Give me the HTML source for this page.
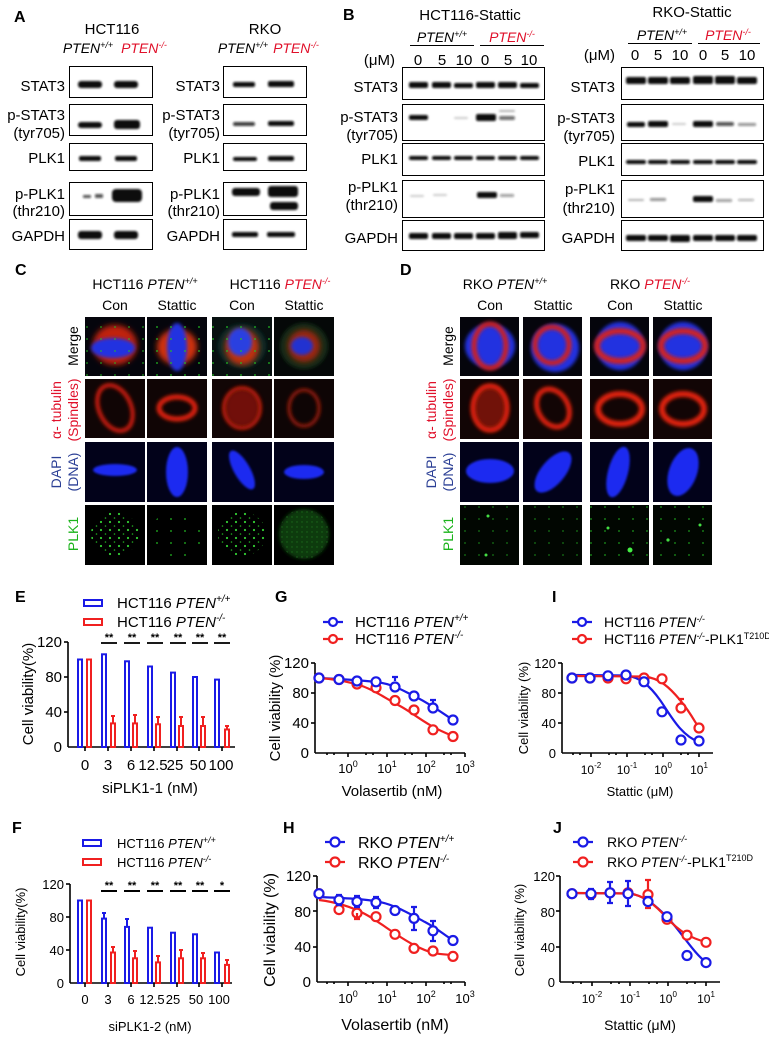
<!DOCTYPE html>
<html><head><meta charset="utf-8"><style>
html,body{margin:0;padding:0;background:#fff;}
svg{display:block;font-family:"Liberation Sans",Arial,sans-serif;}
</style></head><body>
<svg width="769" height="1040" viewBox="0 0 769 1040" xmlns="http://www.w3.org/2000/svg">
<defs>
<filter id="bl" x="-20%" y="-80%" width="140%" height="260%"><feGaussianBlur stdDeviation="1.1"/></filter>
<filter id="bl3" x="-30%" y="-30%" width="160%" height="160%"><feGaussianBlur stdDeviation="3"/></filter>
<filter id="bl1" x="-30%" y="-30%" width="160%" height="160%"><feGaussianBlur stdDeviation="1"/></filter>
<filter id="bl2" x="-30%" y="-30%" width="160%" height="160%"><feGaussianBlur stdDeviation="1.8"/></filter>
<pattern id="gdots" width="9" height="8" patternUnits="userSpaceOnUse"><circle cx="2" cy="2" r="1.1" fill="#3c3"/><circle cx="6.5" cy="6" r="0.8" fill="#2a2"/></pattern>
<pattern id="gdots2" width="5" height="5" patternUnits="userSpaceOnUse"><circle cx="2" cy="2" r="0.7" fill="#1a6a1a"/></pattern>
<pattern id="gdots3" width="14" height="12" patternUnits="userSpaceOnUse"><circle cx="3" cy="3" r="0.9" fill="#2b2"/></pattern>
</defs>
<rect width="769" height="1040" fill="#fff"/>

<!-- ============ PANEL A ============ -->
<g font-size="14" fill="#000">
<text x="14" y="22" font-weight="bold" font-size="16">A</text>
<text x="112" y="34" text-anchor="middle" font-size="15">HCT116</text>
<text x="88" y="53" text-anchor="middle" font-style="italic">PTEN<tspan font-size="9" dy="-5">+/+</tspan></text>
<text x="144" y="53" text-anchor="middle" font-style="italic" fill="#e0102a">PTEN<tspan font-size="9" dy="-5">-/-</tspan></text>
<text x="265" y="34" text-anchor="middle" font-size="15">RKO</text>
<text x="243" y="53" text-anchor="middle" font-style="italic">PTEN<tspan font-size="9" dy="-5">+/+</tspan></text>
<text x="296" y="53" text-anchor="middle" font-style="italic" fill="#e0102a">PTEN<tspan font-size="9" dy="-5">-/-</tspan></text>
<g text-anchor="end" font-size="15">
<text x="65" y="91">STAT3</text><text x="65" y="120">p-STAT3</text><text x="65" y="138">(tyr705)</text>
<text x="65" y="163">PLK1</text><text x="65" y="199">p-PLK1</text><text x="65" y="216">(thr210)</text><text x="65" y="241">GAPDH</text>
<text x="220" y="91">STAT3</text><text x="220" y="120">p-STAT3</text><text x="220" y="138">(tyr705)</text>
<text x="220" y="163">PLK1</text><text x="220" y="199">p-PLK1</text><text x="220" y="216">(thr210)</text><text x="220" y="241">GAPDH</text>
</g>
</g>
<g fill="none" stroke="#000" stroke-width="1">
<rect x="69.5" y="66.5" width="83" height="31"/><rect x="69.5" y="104.5" width="83" height="31"/><rect x="69.5" y="143.5" width="83" height="27"/><rect x="69.5" y="182.5" width="83" height="33"/><rect x="69.5" y="219.5" width="83" height="30"/>
<rect x="223.5" y="66.5" width="83" height="31"/><rect x="223.5" y="104.5" width="83" height="31"/><rect x="223.5" y="143.5" width="83" height="27"/><rect x="223.5" y="182.5" width="83" height="33"/><rect x="223.5" y="219.5" width="83" height="30"/>
</g>
<g fill="#111" filter="url(#bl)">
<rect x="78" y="81" width="24" height="7" rx="3"/><rect x="114" y="81" width="24" height="7" rx="3"/>
<rect x="78" y="122" width="24" height="6" rx="3"/><rect x="114" y="120" width="26" height="9" rx="3"/>
<rect x="79" y="156" width="22" height="5" rx="2"/><rect x="115" y="156" width="22" height="5" rx="2"/>
<rect x="83" y="195" width="8" height="3" rx="1" opacity=".7"/><rect x="95" y="194" width="8" height="4" rx="1" opacity=".7"/><rect x="112" y="189" width="30" height="13" rx="4"/>
<rect x="78" y="231" width="24" height="8" rx="3"/><rect x="114" y="231" width="24" height="8" rx="3"/>
<rect x="233" y="82" width="22" height="5" rx="2"/><rect x="268" y="81" width="26" height="6" rx="2"/>
<rect x="233" y="122" width="22" height="4" rx="2" opacity=".8"/><rect x="268" y="121" width="26" height="5" rx="2"/>
<rect x="233" y="157" width="24" height="4" rx="2"/><rect x="268" y="156" width="26" height="5" rx="2"/>
<rect x="232" y="188" width="28" height="8" rx="3"/><rect x="268" y="186" width="30" height="11" rx="3"/><rect x="270" y="202" width="28" height="8" rx="3"/>
<rect x="232" y="232" width="26" height="5" rx="2"/><rect x="267" y="232" width="28" height="5" rx="2"/>
</g>

<!-- ============ PANEL B ============ -->
<g font-size="14" fill="#000">
<text x="343" y="20" font-weight="bold" font-size="16">B</text>
<text x="470" y="20" text-anchor="middle" font-size="15">HCT116-Stattic</text>
<text x="692" y="17" text-anchor="middle" font-size="15">RKO-Stattic</text>
<text x="442" y="42" text-anchor="middle" font-style="italic">PTEN<tspan font-size="9" dy="-5">+/+</tspan></text>
<text x="512" y="42" text-anchor="middle" font-style="italic" fill="#e0102a">PTEN<tspan font-size="9" dy="-5">-/-</tspan></text>
<text x="662" y="40" text-anchor="middle" font-style="italic">PTEN<tspan font-size="9" dy="-5">+/+</tspan></text>
<text x="728" y="40" text-anchor="middle" font-style="italic" fill="#e0102a">PTEN<tspan font-size="9" dy="-5">-/-</tspan></text>
<text x="395" y="65" text-anchor="end" font-size="15">(μM)</text>
<text x="615" y="60" text-anchor="end" font-size="15">(μM)</text>
<g text-anchor="middle" font-size="15">
<text x="418" y="65">0</text><text x="442" y="65">5</text><text x="464" y="65">10</text><text x="485" y="65">0</text><text x="508" y="65">5</text><text x="529" y="65">10</text>
<text x="635" y="60">0</text><text x="658" y="60">5</text><text x="680" y="60">10</text><text x="703" y="60">0</text><text x="725" y="60">5</text><text x="747" y="60">10</text>
</g>
<g text-anchor="end" font-size="15">
<text x="398" y="92">STAT3</text><text x="398" y="122">p-STAT3</text><text x="398" y="140">(tyr705)</text>
<text x="398" y="164">PLK1</text><text x="398" y="192">p-PLK1</text><text x="398" y="210">(thr210)</text><text x="398" y="243">GAPDH</text>
<text x="615" y="92">STAT3</text><text x="615" y="123">p-STAT3</text><text x="615" y="141">(tyr705)</text>
<text x="615" y="166">PLK1</text><text x="615" y="194">p-PLK1</text><text x="615" y="213">(thr210)</text><text x="615" y="243">GAPDH</text>
</g>
</g>
<g stroke="#000" stroke-width="1" fill="none">
<line x1="410" y1="45.5" x2="474" y2="45.5"/><line x1="480" y1="45.5" x2="544" y2="45.5"/>
<line x1="628" y1="43.5" x2="692" y2="43.5"/><line x1="698" y1="43.5" x2="760" y2="43.5"/>
<rect x="402.5" y="67.5" width="142" height="32"/><rect x="402.5" y="104.5" width="142" height="36"/><rect x="402.5" y="143.5" width="142" height="32"/><rect x="402.5" y="180.5" width="142" height="37"/><rect x="402.5" y="220.5" width="142" height="30"/>
<rect x="621.5" y="67.5" width="142" height="32"/><rect x="621.5" y="104.5" width="142" height="36"/><rect x="621.5" y="143.5" width="142" height="32"/><rect x="621.5" y="180.5" width="142" height="37"/><rect x="621.5" y="220.5" width="142" height="30"/>
</g>
<g fill="#111" filter="url(#bl)">
<rect x="409" y="82" width="19" height="6" rx="2"/><rect x="432" y="82" width="19" height="6" rx="2"/><rect x="454" y="83" width="19" height="5" rx="2"/><rect x="476" y="82" width="19" height="6" rx="2"/><rect x="498" y="82" width="19" height="6" rx="2"/><rect x="520" y="83" width="19" height="5" rx="2"/>
<rect x="409" y="115" width="19" height="5" rx="2"/><rect x="454" y="117" width="14" height="2" rx="1" opacity=".2"/><rect x="476" y="114" width="20" height="7" rx="2"/><rect x="499" y="116" width="16" height="4" rx="2" opacity=".6"/><rect x="499" y="110" width="16" height="2" rx="1" opacity=".3"/>
<rect x="409" y="156" width="19" height="4" rx="2"/><rect x="432" y="156" width="19" height="4" rx="2"/><rect x="454" y="156" width="19" height="4" rx="2"/><rect x="476" y="156" width="19" height="4" rx="2"/><rect x="498" y="156" width="19" height="4" rx="2"/><rect x="520" y="156" width="19" height="4" rx="2"/>
<rect x="410" y="195" width="14" height="2" rx="1" opacity=".2"/><rect x="433" y="194" width="14" height="2" rx="1" opacity=".2"/><rect x="477" y="192" width="20" height="6" rx="2"/><rect x="500" y="194" width="14" height="3" rx="1" opacity=".4"/>
<rect x="409" y="233" width="19" height="6" rx="2"/><rect x="432" y="233" width="19" height="6" rx="2"/><rect x="454" y="233" width="19" height="6" rx="2"/><rect x="476" y="233" width="19" height="6" rx="2"/><rect x="498" y="232" width="19" height="7" rx="2"/><rect x="520" y="232" width="19" height="6" rx="2"/>
<rect x="626" y="77" width="20" height="7" rx="2"/><rect x="648" y="77" width="20" height="7" rx="2"/><rect x="670" y="77" width="20" height="7" rx="2"/><rect x="693" y="76" width="20" height="8" rx="2"/><rect x="715" y="76" width="20" height="8" rx="2"/><rect x="737" y="77" width="20" height="7" rx="2"/>
<rect x="627" y="122" width="18" height="5" rx="2"/><rect x="648" y="121" width="20" height="6" rx="2"/><rect x="672" y="123" width="14" height="2" rx="1" opacity=".2"/><rect x="693" y="121" width="20" height="6" rx="2"/><rect x="716" y="122" width="18" height="4" rx="2" opacity=".7"/><rect x="738" y="123" width="18" height="3" rx="1" opacity=".45"/>
<rect x="626" y="160" width="20" height="4" rx="2"/><rect x="648" y="160" width="20" height="4" rx="2"/><rect x="670" y="160" width="20" height="4" rx="2"/><rect x="693" y="160" width="20" height="4" rx="2"/><rect x="715" y="160" width="20" height="4" rx="2"/><rect x="737" y="160" width="20" height="4" rx="2"/>
<rect x="628" y="199" width="16" height="2" rx="1" opacity=".3"/><rect x="650" y="198" width="16" height="3" rx="1" opacity=".45"/><rect x="693" y="196" width="20" height="6" rx="2"/><rect x="716" y="199" width="16" height="3" rx="1" opacity=".4"/><rect x="738" y="199" width="16" height="2" rx="1" opacity=".35"/>
<rect x="626" y="235" width="20" height="6" rx="2"/><rect x="648" y="235" width="20" height="6" rx="2"/><rect x="670" y="235" width="20" height="7" rx="2"/><rect x="693" y="235" width="20" height="6" rx="2"/><rect x="715" y="235" width="20" height="6" rx="2"/><rect x="737" y="235" width="20" height="6" rx="2"/>
</g>

<!-- ============ PANEL C ============ -->
<g font-size="14" fill="#000">
<text x="15" y="275" font-weight="bold" font-size="16">C</text>
<text x="145" y="289" text-anchor="middle">HCT116 <tspan font-style="italic">PTEN</tspan><tspan font-size="9" dy="-5" font-style="italic">+/+</tspan></text>
<text x="280" y="289" text-anchor="middle">HCT116 <tspan font-style="italic" fill="#e0102a">PTEN</tspan><tspan font-size="9" dy="-5" font-style="italic" fill="#e0102a">-/-</tspan></text>
<g text-anchor="middle"><text x="115" y="310">Con</text><text x="177" y="310">Stattic</text><text x="242" y="310">Con</text><text x="304" y="310">Stattic</text></g>
<g text-anchor="middle">
<text transform="translate(78,346) rotate(-90)">Merge</text>
<text transform="translate(61,410) rotate(-90)" fill="#e0102a">α- tubulin</text>
<text transform="translate(78,410) rotate(-90)" fill="#e0102a">(Spindles)</text>
<text transform="translate(61,472) rotate(-90)" fill="#2b3f95">DAPI</text>
<text transform="translate(78,472) rotate(-90)" fill="#2b3f95">(DNA)</text>
<text transform="translate(78,534) rotate(-90)" fill="#1bb31b">PLK1</text>
</g>
</g>
<g font-size="14" fill="#000">
<text x="400" y="275" font-weight="bold" font-size="16">D</text>
<text x="505" y="289" text-anchor="middle">RKO <tspan font-style="italic">PTEN</tspan><tspan font-size="9" dy="-5" font-style="italic">+/+</tspan></text>
<text x="650" y="289" text-anchor="middle">RKO <tspan font-style="italic" fill="#e0102a">PTEN</tspan><tspan font-size="9" dy="-5" font-style="italic" fill="#e0102a">-/-</tspan></text>
<g text-anchor="middle"><text x="490" y="310">Con</text><text x="553" y="310">Stattic</text><text x="620" y="310">Con</text><text x="683" y="310">Stattic</text></g>
<g text-anchor="middle">
<text transform="translate(453,346) rotate(-90)">Merge</text>
<text transform="translate(436,410) rotate(-90)" fill="#e0102a">α- tubulin</text>
<text transform="translate(453,410) rotate(-90)" fill="#e0102a">(Spindles)</text>
<text transform="translate(436,472) rotate(-90)" fill="#2b3f95">DAPI</text>
<text transform="translate(453,472) rotate(-90)" fill="#2b3f95">(DNA)</text>
<text transform="translate(453,534) rotate(-90)" fill="#1bb31b">PLK1</text>
</g>
</g>

<g>
<g><rect x="85" y="317" width="60" height="59" fill="#05050c"/><ellipse cx="115" cy="345" rx="22" ry="20" fill="#c02010" filter="url(#bl3)"/><ellipse cx="113" cy="348" rx="22" ry="10" fill="#2030e0" filter="url(#bl2)"/><rect x="85" y="317" width="60" height="59" fill="url(#gdots3)" opacity=".8"/></g>
<g><rect x="147" y="317" width="60" height="59" fill="#05050c"/><ellipse cx="177" cy="347" rx="20" ry="18" fill="#d03010" filter="url(#bl3)"/><ellipse cx="177" cy="347" rx="10" ry="24" fill="#2030e0" filter="url(#bl2)"/><rect x="147" y="317" width="60" height="59" fill="url(#gdots3)"/></g>
<g><rect x="212" y="317" width="60" height="59" fill="#081010"/><ellipse cx="242" cy="346" rx="24" ry="22" fill="#0d2a28" filter="url(#bl2)"/><ellipse cx="242" cy="347" rx="17" ry="18" fill="#c03010" filter="url(#bl3)"/><ellipse cx="240" cy="342" rx="12" ry="14" fill="#2a40e0" filter="url(#bl2)"/><rect x="212" y="317" width="60" height="59" fill="url(#gdots3)"/></g>
<g><rect x="274" y="317" width="60" height="59" fill="#050808"/><ellipse cx="304" cy="346" rx="24" ry="23" fill="#122a18" filter="url(#bl2)"/><ellipse cx="304" cy="346" rx="16" ry="16" fill="#a02510" filter="url(#bl3)"/><ellipse cx="302" cy="346" rx="11" ry="9" fill="#2030d0" filter="url(#bl2)"/></g>
<g><rect x="85" y="379" width="60" height="59" fill="#100505"/><ellipse cx="115" cy="408" rx="16" ry="24" fill="none" stroke="#d01a10" stroke-width="4" filter="url(#bl2)" transform="rotate(-25 115 408)"/></g>
<g><rect x="147" y="379" width="60" height="59" fill="#100505"/><ellipse cx="177" cy="408" rx="18" ry="11" fill="none" stroke="#e0200f" stroke-width="5" filter="url(#bl2)"/></g>
<g><rect x="212" y="379" width="60" height="59" fill="#120606"/><ellipse cx="242" cy="408" rx="18" ry="20" fill="#b0180c" opacity=".6" filter="url(#bl3)"/><ellipse cx="242" cy="408" rx="18" ry="20" fill="none" stroke="#d02010" stroke-width="3" filter="url(#bl2)"/></g>
<g><rect x="274" y="379" width="60" height="59" fill="#0e0505"/><ellipse cx="304" cy="408" rx="15" ry="18" fill="none" stroke="#a01a10" stroke-width="3" filter="url(#bl2)"/></g>
<g><rect x="85" y="442" width="60" height="60" fill="#02021a"/><ellipse cx="115" cy="470" rx="22" ry="6" fill="#1a2cf0" filter="url(#bl1)"/></g>
<g><rect x="147" y="442" width="60" height="60" fill="#02021a"/><ellipse cx="177" cy="472" rx="11" ry="25" fill="#1a2cf0" filter="url(#bl1)"/></g>
<g><rect x="212" y="442" width="60" height="60" fill="#02021a"/><ellipse cx="242" cy="470" rx="8" ry="22" fill="#1a2cf0" filter="url(#bl1)" transform="rotate(-30 242 470)"/></g>
<g><rect x="274" y="442" width="60" height="60" fill="#02021a"/><ellipse cx="304" cy="472" rx="20" ry="7" fill="#1a2cf0" filter="url(#bl1)"/></g>
<g><rect x="85" y="505" width="60" height="60" fill="#000"/><ellipse cx="115" cy="534" rx="24" ry="22" fill="url(#gdots)"/></g>
<g><rect x="147" y="505" width="60" height="60" fill="#000"/><ellipse cx="177" cy="534" rx="26" ry="24" fill="url(#gdots3)"/></g>
<g><rect x="212" y="505" width="60" height="60" fill="#000"/><ellipse cx="242" cy="534" rx="24" ry="22" fill="url(#gdots)"/></g>
<g><rect x="274" y="505" width="60" height="60" fill="#000"/><ellipse cx="304" cy="534" rx="25" ry="25" fill="#0c3a0c" filter="url(#bl2)"/><ellipse cx="304" cy="534" rx="25" ry="25" fill="url(#gdots2)"/></g>
</g>
<g>
<g><rect x="460" y="317" width="59" height="59" fill="#05050c"/><ellipse cx="490" cy="346" rx="25" ry="22" fill="#2030e0" filter="url(#bl2)"/><ellipse cx="490" cy="346" rx="16" ry="22" fill="none" stroke="#d02020" stroke-width="5" filter="url(#bl2)"/></g>
<g><rect x="523" y="317" width="59" height="59" fill="#05050c"/><ellipse cx="555" cy="348" rx="24" ry="24" fill="#2030e0" filter="url(#bl2)"/><ellipse cx="552" cy="345" rx="17" ry="18" fill="none" stroke="#d02020" stroke-width="5" filter="url(#bl2)"/></g>
<g><rect x="590" y="317" width="59" height="59" fill="#05050c"/><ellipse cx="620" cy="346" rx="24" ry="24" fill="#2030e0" filter="url(#bl2)"/><ellipse cx="620" cy="346" rx="23" ry="15" fill="none" stroke="#d02020" stroke-width="6" filter="url(#bl2)"/></g>
<g><rect x="653" y="317" width="59" height="59" fill="#05050c"/><ellipse cx="683" cy="346" rx="24" ry="24" fill="#2030e0" filter="url(#bl2)"/><ellipse cx="683" cy="346" rx="22" ry="15" fill="none" stroke="#d02020" stroke-width="6" filter="url(#bl2)"/></g>
<g><rect x="460" y="379" width="59" height="60" fill="#120505"/><ellipse cx="490" cy="408" rx="17" ry="22" fill="#b01a10" opacity=".6" filter="url(#bl3)"/><ellipse cx="490" cy="408" rx="17" ry="22" fill="none" stroke="#e02010" stroke-width="5" filter="url(#bl2)"/></g>
<g><rect x="523" y="379" width="59" height="60" fill="#120505"/><ellipse cx="553" cy="408" rx="15" ry="20" fill="none" stroke="#e02010" stroke-width="5" filter="url(#bl2)" transform="rotate(-30 553 408)"/></g>
<g><rect x="590" y="379" width="59" height="60" fill="#120505"/><ellipse cx="620" cy="409" rx="22" ry="15" fill="none" stroke="#e02010" stroke-width="6" filter="url(#bl2)"/><line x1="602" y1="409" x2="638" y2="409" stroke="#c01a10" stroke-width="3" filter="url(#bl1)"/></g>
<g><rect x="653" y="379" width="59" height="60" fill="#120505"/><ellipse cx="683" cy="409" rx="21" ry="15" fill="none" stroke="#e02010" stroke-width="6" filter="url(#bl2)"/></g>
<g><rect x="460" y="442" width="59" height="60" fill="#02021a"/><ellipse cx="490" cy="471" rx="24" ry="12" fill="#1a2cf0" filter="url(#bl1)"/></g>
<g><rect x="523" y="442" width="59" height="60" fill="#02021a"/><ellipse cx="553" cy="472" rx="12" ry="25" fill="#1a2cf0" filter="url(#bl1)" transform="rotate(40 553 472)"/></g>
<g><rect x="590" y="442" width="59" height="60" fill="#02021a"/><ellipse cx="618" cy="472" rx="10" ry="26" fill="#1a2cf0" filter="url(#bl1)" transform="rotate(15 618 472)"/></g>
<g><rect x="653" y="442" width="59" height="60" fill="#02021a"/><ellipse cx="683" cy="472" rx="14" ry="25" fill="#1a2cf0" filter="url(#bl1)" transform="rotate(20 683 472)"/></g>
<g><rect x="460" y="505" width="59" height="60" fill="#010601"/><rect x="460" y="505" width="59" height="60" fill="url(#gdots3)" opacity=".6"/><circle cx="488" cy="516" r="1.5" fill="#4d4"/><circle cx="486" cy="555" r="1.5" fill="#4d4"/></g>
<g><rect x="523" y="505" width="59" height="60" fill="#010601"/><rect x="523" y="505" width="59" height="60" fill="url(#gdots3)" opacity=".6"/></g>
<g><rect x="590" y="505" width="59" height="60" fill="#010601"/><rect x="590" y="505" width="59" height="60" fill="url(#gdots3)" opacity=".8"/><circle cx="630" cy="550" r="2.5" fill="#4e4"/><circle cx="608" cy="528" r="1.5" fill="#4d4"/></g>
<g><rect x="653" y="505" width="59" height="60" fill="#010601"/><rect x="653" y="505" width="59" height="60" fill="url(#gdots3)" opacity=".8"/><circle cx="668" cy="540" r="1.6" fill="#4d4"/><circle cx="700" cy="525" r="1.5" fill="#4d4"/></g>
</g>

<!-- ============ PANEL E ============ -->
<g font-size="15" fill="#000">
<text x="15" y="602" font-weight="bold" font-size="16">E</text>
<rect x="84" y="600" width="18" height="6" fill="none" stroke="#1a1ae6" stroke-width="2"/>
<rect x="84" y="619" width="18" height="6" fill="none" stroke="#f02020" stroke-width="2"/>
<text x="117" y="608">HCT116 <tspan font-style="italic">PTEN</tspan><tspan font-size="10" dy="-6" font-style="italic">+/+</tspan></text>
<text x="117" y="627">HCT116 <tspan font-style="italic">PTEN</tspan><tspan font-size="10" dy="-6" font-style="italic">-/-</tspan></text>
<g text-anchor="end"><text x="62" y="647">120</text><text x="62" y="682">80</text><text x="62" y="717">40</text><text x="62" y="752">0</text></g>
<g text-anchor="middle"><text x="85" y="770">0</text><text x="108" y="770">3</text><text x="131" y="770">6</text><text x="153" y="770">12.5</text><text x="175" y="770">25</text><text x="198" y="770">50</text><text x="221" y="770">100</text></g>
<text x="150" y="793" text-anchor="middle">siPLK1-1 (nM)</text>
<text transform="translate(33,694) rotate(-90)" text-anchor="middle">Cell viability(%)</text>
</g>
<g stroke="#000" stroke-width="1.6" fill="none">
<line x1="68" y1="642" x2="68" y2="747"/><line x1="68" y1="747" x2="235" y2="747"/>
<line x1="64" y1="642" x2="68" y2="642"/><line x1="64" y1="677" x2="68" y2="677"/><line x1="64" y1="712" x2="68" y2="712"/>
<line x1="85" y1="747" x2="85" y2="751"/><line x1="108" y1="747" x2="108" y2="751"/><line x1="131" y1="747" x2="131" y2="751"/><line x1="154" y1="747" x2="154" y2="751"/><line x1="177" y1="747" x2="177" y2="751"/><line x1="199" y1="747" x2="199" y2="751"/><line x1="222" y1="747" x2="222" y2="751"/>
<g stroke-width="1.8"><line x1="101" y1="643" x2="117" y2="643"/><line x1="124" y1="643" x2="140" y2="643"/><line x1="147" y1="643" x2="163" y2="643"/><line x1="170" y1="643" x2="186" y2="643"/><line x1="192" y1="643" x2="208" y2="643"/><line x1="214" y1="643" x2="230" y2="643"/></g>
</g>
<g font-size="11" font-weight="bold" text-anchor="middle"><text x="109" y="641">**</text><text x="132" y="641">**</text><text x="155" y="641">**</text><text x="178" y="641">**</text><text x="200" y="641">**</text><text x="222" y="641">**</text></g>
<g fill="#fff" stroke-width="2">
<g stroke="#1a1ae6">
<rect x="78" y="659.5" width="4" height="87.5"/><rect x="102" y="654.3" width="4" height="92.7"/><rect x="125" y="661.3" width="4" height="85.7"/><rect x="148" y="666.5" width="4" height="80.5"/><rect x="171" y="672.6" width="4" height="74.4"/><rect x="193" y="677" width="4" height="70"/><rect x="215" y="679.6" width="4" height="67.4"/>
</g>
<g stroke="#f02020">
<rect x="87" y="659.5" width="4" height="87.5"/><rect x="111" y="723.4" width="4" height="23.6"/><rect x="133" y="723.4" width="4" height="23.6"/><rect x="156" y="724.3" width="4" height="22.7"/><rect x="179" y="726" width="4" height="21"/><rect x="201" y="726" width="4" height="21"/><rect x="225" y="729.5" width="4" height="17.5"/>
<path d="M113 723V716M111 716h4M135 723V715M133 715h4M158 724V717M156 717h4M181 726V717M179 717h4M203 726V717M201 717h4M227 729V726M225 726h4" fill="none"/>
</g>
</g>

<!-- ============ PANEL F ============ -->
<g font-size="13" fill="#000">
<text x="12" y="833" font-weight="bold" font-size="16">F</text>
<rect x="83" y="840" width="18" height="6" fill="none" stroke="#1a1ae6" stroke-width="2"/>
<rect x="83" y="859" width="18" height="6" fill="none" stroke="#f02020" stroke-width="2"/>
<text x="117" y="848">HCT116 <tspan font-style="italic">PTEN</tspan><tspan font-size="9" dy="-5" font-style="italic">+/+</tspan></text>
<text x="117" y="867">HCT116 <tspan font-style="italic">PTEN</tspan><tspan font-size="9" dy="-5" font-style="italic">-/-</tspan></text>
<g text-anchor="end"><text x="64" y="889">120</text><text x="64" y="922">80</text><text x="64" y="955">40</text><text x="64" y="988">0</text></g>
<g text-anchor="middle"><text x="85" y="1004">0</text><text x="108" y="1004">3</text><text x="131" y="1004">6</text><text x="152" y="1004">12.5</text><text x="173" y="1004">25</text><text x="196" y="1004">50</text><text x="219" y="1004">100</text></g>
<text x="150" y="1031" text-anchor="middle">siPLK1-2  (nM)</text>
<text transform="translate(25,932) rotate(-90)" text-anchor="middle">Cell viability(%)</text>
</g>
<g stroke="#000" stroke-width="1.6" fill="none">
<line x1="70" y1="884" x2="70" y2="983"/><line x1="70" y1="983" x2="232" y2="983"/>
<line x1="66" y1="884" x2="70" y2="884"/><line x1="66" y1="917" x2="70" y2="917"/><line x1="66" y1="950" x2="70" y2="950"/>
<line x1="85" y1="983" x2="85" y2="987"/><line x1="108" y1="983" x2="108" y2="987"/><line x1="131" y1="983" x2="131" y2="987"/><line x1="154" y1="983" x2="154" y2="987"/><line x1="177" y1="983" x2="177" y2="987"/><line x1="199" y1="983" x2="199" y2="987"/><line x1="222" y1="983" x2="222" y2="987"/>
<g stroke-width="2"><line x1="101" y1="891" x2="117" y2="891"/><line x1="124" y1="891" x2="140" y2="891"/><line x1="147" y1="891" x2="163" y2="891"/><line x1="170" y1="891" x2="186" y2="891"/><line x1="192" y1="891" x2="208" y2="891"/><line x1="214" y1="891" x2="230" y2="891"/></g>
</g>
<g font-size="11" font-weight="bold" text-anchor="middle"><text x="109" y="889">**</text><text x="132" y="889">**</text><text x="155" y="889">**</text><text x="178" y="889">**</text><text x="200" y="889">**</text><text x="222" y="889">*</text></g>
<g fill="#fff" stroke-width="2">
<g stroke="#1a1ae6">
<rect x="78" y="900.5" width="4" height="82.5"/><rect x="102" y="918.6" width="4" height="64.4"/><rect x="125" y="926.9" width="4" height="56.1"/><rect x="148" y="927.7" width="4" height="55.3"/><rect x="171" y="932.7" width="4" height="50.3"/><rect x="193" y="934.3" width="4" height="48.7"/><rect x="215" y="952.5" width="4" height="30.5"/>
<path d="M104 918V913M102 913h4M127 926V919M125 919h4" fill="none"/>
</g>
<g stroke="#f02020">
<rect x="87" y="900.5" width="4" height="82.5"/><rect x="111" y="952.5" width="4" height="30.5"/><rect x="133" y="958.3" width="4" height="24.7"/><rect x="156" y="962.4" width="4" height="20.6"/><rect x="179" y="958.3" width="4" height="24.7"/><rect x="201" y="958.3" width="4" height="24.7"/><rect x="225" y="964.9" width="4" height="18.1"/>
<path d="M113 952V947M111 947h4M135 958V951M133 951h4M158 962V956M156 956h4M181 958V950M179 950h4M203 958V953M201 953h4M227 964V960M225 960h4" fill="none"/>
</g>
</g>

<!-- ============ PANEL G ============ -->
<g font-size="15" fill="#000">
<text x="275" y="602" font-weight="bold" font-size="16">G</text>
<text x="355" y="627">HCT116 <tspan font-style="italic">PTEN</tspan><tspan font-size="10" dy="-6" font-style="italic">+/+</tspan></text>
<text x="355" y="644">HCT116 <tspan font-style="italic">PTEN</tspan><tspan font-size="10" dy="-6" font-style="italic">-/-</tspan></text>
<g text-anchor="end"><text x="309" y="668">120</text><text x="309" y="698">80</text><text x="309" y="728">40</text><text x="309" y="758">0</text></g>
<g text-anchor="middle" font-size="13"><text x="348" y="773">10<tspan font-size="9" dy="-6">0</tspan></text><text x="387" y="773">10<tspan font-size="9" dy="-6">1</tspan></text><text x="426" y="773">10<tspan font-size="9" dy="-6">2</tspan></text><text x="465" y="773">10<tspan font-size="9" dy="-6">3</tspan></text></g>
<text x="392" y="796" text-anchor="middle">Volasertib (nM)</text>
<text transform="translate(280,708) rotate(-90)" text-anchor="middle">Cell viability (%)</text>
</g>
<g stroke="#000" stroke-width="1.6" fill="none">
<line x1="315" y1="663" x2="315" y2="753"/><line x1="315" y1="753" x2="465" y2="753"/>
<line x1="311" y1="663" x2="315" y2="663"/><line x1="311" y1="693" x2="315" y2="693"/><line x1="311" y1="723" x2="315" y2="723"/>
<path d="M348 753v4M387 753v4M426 753v4M465 753v4M327 753v2M334 753v2M366 753v2M373 753v2M405 753v2M412 753v2M444 753v2M451 753v2"/>
</g>
<g fill="none" stroke-width="2.2">
<line x1="323" y1="622" x2="343" y2="622" stroke="#1a1ae6"/><circle cx="333" cy="622" r="4" stroke="#1a1ae6" fill="#fff"/>
<line x1="323" y1="639" x2="343" y2="639" stroke="#f02020"/><circle cx="333" cy="639" r="4" stroke="#f02020" fill="#fff"/>
<path d="M319 678 C340 679 360 680 376 682 S398 688 414 696 S438 710 453 720" stroke="#1a1ae6"/>
<path d="M319 678 C335 679 350 682 362 686 S385 698 400 706 S425 725 453 736" stroke="#f02020"/>
<g stroke="#f02020" fill="#fff"><circle cx="319" cy="678" r="4.5"/><circle cx="339" cy="679.5" r="4.5"/><circle cx="357" cy="684" r="4.5"/><circle cx="376" cy="687.8" r="4.5"/><circle cx="395" cy="700.5" r="4.5"/><circle cx="414" cy="710" r="4.5"/><circle cx="433" cy="729.8" r="4.5"/><circle cx="453" cy="736.5" r="4.5"/></g>
<g stroke="#1a1ae6" fill="#fff"><circle cx="319" cy="678" r="4.5"/><circle cx="339" cy="679.5" r="4.5"/><circle cx="357" cy="681" r="4.5"/><circle cx="376" cy="681.8" r="4.5"/><circle cx="395" cy="687" r="4.5"/><circle cx="414" cy="696" r="4.5"/><circle cx="433" cy="708" r="4.5"/><circle cx="453" cy="720" r="4.5"/></g>
<path d="M395 681v-4M392 677h6M433 704v-4M430 700h6" stroke="#1a1ae6"/>
</g>

<!-- ============ PANEL I ============ -->
<g font-size="13" fill="#000">
<text x="552" y="602" font-weight="bold" font-size="16">I</text>
<text x="604" y="627" font-size="14">HCT116 <tspan font-style="italic">PTEN</tspan><tspan font-size="9" dy="-5" font-style="italic">-/-</tspan></text>
<text x="604" y="644" font-size="14">HCT116 <tspan font-style="italic">PTEN</tspan><tspan font-size="9" dy="-5" font-style="italic">-/-</tspan><tspan dy="5">-PLK1</tspan><tspan font-size="9" dy="-5">T210D</tspan></text>
<g text-anchor="end"><text x="556" y="668">120</text><text x="556" y="698">80</text><text x="556" y="728">40</text><text x="556" y="758">0</text></g>
<g text-anchor="middle" font-size="12"><text x="591" y="774">10<tspan font-size="8" dy="-6">-2</tspan></text><text x="627" y="774">10<tspan font-size="8" dy="-6">-1</tspan></text><text x="663" y="774">10<tspan font-size="8" dy="-6">0</tspan></text><text x="699" y="774">10<tspan font-size="8" dy="-6">1</tspan></text></g>
<text x="640" y="796" text-anchor="middle">Stattic (μM)</text>
<text transform="translate(528,708) rotate(-90)" text-anchor="middle">Cell viability (%)</text>
</g>
<g stroke="#000" stroke-width="1.6" fill="none">
<line x1="562" y1="663" x2="562" y2="753"/><line x1="562" y1="753" x2="713" y2="753"/>
<line x1="558" y1="663" x2="562" y2="663"/><line x1="558" y1="693" x2="562" y2="693"/><line x1="558" y1="723" x2="562" y2="723"/>
<path d="M591 753v4M627 753v4M663 753v4M699 753v4M573 753v2M580 753v2M609 753v2M616 753v2M645 753v2M652 753v2M681 753v2M688 753v2"/>
</g>
<g fill="none" stroke-width="2.2">
<line x1="572" y1="622" x2="592" y2="622" stroke="#1a1ae6"/><circle cx="582" cy="622" r="4" stroke="#1a1ae6" fill="#fff"/>
<line x1="572" y1="639" x2="592" y2="639" stroke="#f02020"/><circle cx="582" cy="639" r="4" stroke="#f02020" fill="#fff"/>
<path d="M572 675 L626 675.5 C640 677 650 686 660 700 S680 735 699 742" stroke="#1a1ae6"/>
<path d="M572 676 L644 676.5 C660 678 670 688 680 700 S695 722 699 728" stroke="#f02020"/>
<g stroke="#f02020" fill="#fff"><circle cx="572" cy="678" r="4.5"/><circle cx="590" cy="678" r="4.5"/><circle cx="608" cy="678" r="4.5"/><circle cx="626" cy="678.8" r="4.5"/><circle cx="644" cy="678" r="4.5"/><circle cx="662" cy="678.8" r="4.5"/><circle cx="681" cy="708" r="4.5"/><circle cx="699" cy="728" r="4.5"/></g>
<path d="M681 704v-5M678 699h6" stroke="#f02020"/>
<g stroke="#1a1ae6" fill="#fff"><circle cx="572" cy="678" r="4.5"/><circle cx="590" cy="678" r="4.5"/><circle cx="608" cy="675.8" r="4.5"/><circle cx="626" cy="675" r="4.5"/><circle cx="644" cy="681.8" r="4.5"/><circle cx="662" cy="711.8" r="4.5"/><circle cx="681" cy="740" r="4.5"/><circle cx="699" cy="741" r="4.5"/></g>
</g>

<!-- ============ PANEL H ============ -->
<g font-size="15" fill="#000">
<text x="283" y="833" font-weight="bold" font-size="16">H</text>
<text x="358" y="848" font-size="16">RKO <tspan font-style="italic">PTEN</tspan><tspan font-size="10" dy="-6" font-style="italic">+/+</tspan></text>
<text x="358" y="868" font-size="16">RKO <tspan font-style="italic">PTEN</tspan><tspan font-size="10" dy="-6" font-style="italic">-/-</tspan></text>
<g text-anchor="end"><text x="311" y="881">120</text><text x="311" y="917">80</text><text x="311" y="952">40</text><text x="311" y="987">0</text></g>
<g text-anchor="middle" font-size="13"><text x="348" y="1003">10<tspan font-size="9" dy="-6">0</tspan></text><text x="387" y="1003">10<tspan font-size="9" dy="-6">1</tspan></text><text x="426" y="1003">10<tspan font-size="9" dy="-6">2</tspan></text><text x="465" y="1003">10<tspan font-size="9" dy="-6">3</tspan></text></g>
<text x="395" y="1030" text-anchor="middle" font-size="16">Volasertib (nM)</text>
<text transform="translate(275,930) rotate(-90)" text-anchor="middle" font-size="16">Cell viability (%)</text>
</g>
<g stroke="#000" stroke-width="1.6" fill="none">
<line x1="317" y1="876" x2="317" y2="982"/><line x1="317" y1="982" x2="465" y2="982"/>
<line x1="313" y1="876" x2="317" y2="876"/><line x1="313" y1="911" x2="317" y2="911"/><line x1="313" y1="947" x2="317" y2="947"/>
<path d="M348 982v4M387 982v4M426 982v4M465 982v4M327 982v2M334 982v2M366 982v2M373 982v2M405 982v2M412 982v2M444 982v2M451 982v2"/>
</g>
<g fill="none" stroke-width="2.2">
<line x1="325" y1="842" x2="345" y2="842" stroke="#1a1ae6"/><circle cx="335" cy="842" r="4.5" stroke="#1a1ae6" fill="#fff"/>
<line x1="325" y1="862" x2="345" y2="862" stroke="#f02020"/><circle cx="335" cy="862" r="4.5" stroke="#f02020" fill="#fff"/>
<path d="M319 897 C345 898 365 899 380 902 S410 914 425 922 S445 936 453 940" stroke="#1a1ae6"/>
<path d="M319 900 C335 902 350 906 365 914 S395 935 414 945 S440 954 453 955" stroke="#f02020"/>
<g stroke="#f02020" fill="#fff"><circle cx="319" cy="893.7" r="4.5"/><circle cx="339" cy="909.6" r="4.5"/><circle cx="357" cy="913.1" r="4.5"/><circle cx="376" cy="916.7" r="4.5"/><circle cx="395" cy="934.3" r="4.5"/><circle cx="414" cy="948.4" r="4.5"/><circle cx="433" cy="951" r="4.5"/><circle cx="453" cy="956.4" r="4.5"/></g>
<path d="M357 913v6M354 919h6" stroke="#f02020"/>
<g stroke="#1a1ae6"><path d="M339 895v10M336 895h6M336 905h6M357 896v11M354 896h6M354 907h6M376 897v11M373 897h6M373 908h6M414 907v23M411 907h6M411 930h6M433 921v20M430 921h6M430 941h6"/></g>
<g stroke="#1a1ae6" fill="#fff"><circle cx="319" cy="893.7" r="4.5"/><circle cx="339" cy="899.9" r="4.5"/><circle cx="357" cy="901.6" r="4.5"/><circle cx="376" cy="902.5" r="4.5"/><circle cx="395" cy="910.5" r="4.5"/><circle cx="414" cy="918.4" r="4.5"/><circle cx="433" cy="930.8" r="4.5"/><circle cx="453" cy="940.5" r="4.5"/></g>
</g>

<!-- ============ PANEL J ============ -->
<g font-size="13" fill="#000">
<text x="553" y="833" font-weight="bold" font-size="16">J</text>
<text x="607" y="847" font-size="14">RKO <tspan font-style="italic">PTEN</tspan><tspan font-size="9" dy="-5" font-style="italic">-/-</tspan></text>
<text x="607" y="867" font-size="14">RKO <tspan font-style="italic">PTEN</tspan><tspan font-size="9" dy="-5" font-style="italic">-/-</tspan><tspan dy="5">-PLK1</tspan><tspan font-size="9" dy="-6">T210D</tspan></text>
<g text-anchor="end"><text x="555" y="881">120</text><text x="555" y="917">80</text><text x="555" y="952">40</text><text x="555" y="987">0</text></g>
<g text-anchor="middle" font-size="12"><text x="592" y="1003">10<tspan font-size="8" dy="-6">-2</tspan></text><text x="630" y="1003">10<tspan font-size="8" dy="-6">-1</tspan></text><text x="668" y="1003">10<tspan font-size="8" dy="-6">0</tspan></text><text x="706" y="1003">10<tspan font-size="8" dy="-6">1</tspan></text></g>
<text x="640" y="1030" text-anchor="middle" font-size="14">Stattic (μM)</text>
<text transform="translate(524,930) rotate(-90)" text-anchor="middle">Cell viability (%)</text>
</g>
<g stroke="#000" stroke-width="1.6" fill="none">
<line x1="560" y1="876" x2="560" y2="982"/><line x1="560" y1="982" x2="720" y2="982"/>
<line x1="556" y1="876" x2="560" y2="876"/><line x1="556" y1="911" x2="560" y2="911"/><line x1="556" y1="947" x2="560" y2="947"/>
<path d="M592 982v4M630 982v4M668 982v4M706 982v4M573 982v2M581 982v2M611 982v2M619 982v2M649 982v2M657 982v2M687 982v2M695 982v2"/>
</g>
<g fill="none" stroke-width="2.2">
<line x1="573" y1="842" x2="593" y2="842" stroke="#1a1ae6"/><circle cx="583" cy="842" r="4.5" stroke="#1a1ae6" fill="#fff"/>
<line x1="573" y1="862" x2="593" y2="862" stroke="#f02020"/><circle cx="583" cy="862" r="4.5" stroke="#f02020" fill="#fff"/>
<path d="M572 893 L630 893.5 C645 896 655 905 667 917 S695 955 706 962" stroke="#1a1ae6"/>
<path d="M572 893 L630 893.5 C645 896 655 905 667 918 S690 938 706 942" stroke="#f02020"/>
<g stroke="#f02020"><path d="M648 880v28M645 880h6M645 908h6"/></g>
<g stroke="#f02020" fill="#fff"><circle cx="572" cy="893.7" r="4.5"/><circle cx="591" cy="894.6" r="4.5"/><circle cx="610" cy="892.8" r="4.5"/><circle cx="628" cy="892.8" r="4.5"/><circle cx="648" cy="894.6" r="4.5"/><circle cx="667" cy="919.3" r="4.5"/><circle cx="687" cy="935.2" r="4.5"/><circle cx="706" cy="942.3" r="4.5"/></g>
<g stroke="#1a1ae6"><path d="M591 889v10M588 889h6M588 899h6M610 882v21M607 882h6M607 903h6M628 881v25M625 881h6M625 906h6M648 897v10M645 897h6"/></g>
<g stroke="#1a1ae6" fill="#fff"><circle cx="572" cy="893.7" r="4.5"/><circle cx="591" cy="893.7" r="4.5"/><circle cx="610" cy="892.8" r="4.5"/><circle cx="628" cy="893.7" r="4.5"/><circle cx="648" cy="901.6" r="4.5"/><circle cx="667" cy="916.7" r="4.5"/><circle cx="687" cy="955.5" r="4.5"/><circle cx="706" cy="962.6" r="4.5"/></g>
</g>
</svg>
</body></html>
